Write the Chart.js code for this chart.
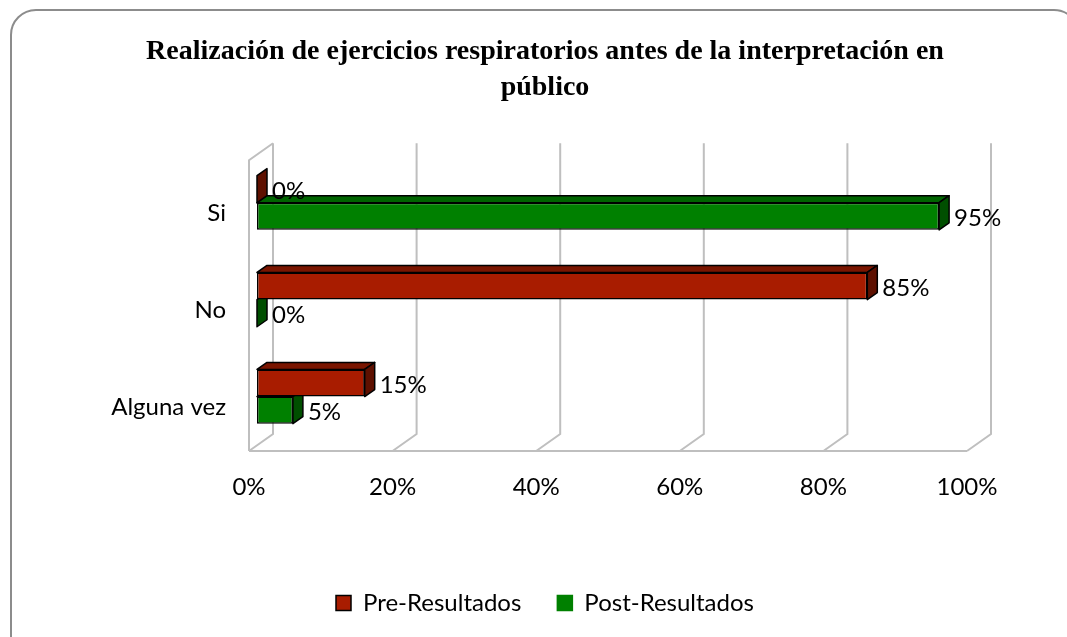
<!DOCTYPE html>
<html>
<head>
<meta charset="utf-8">
<script src="https://cdn.jsdelivr.net/npm/chart.js@4.4.1/dist/chart.umd.min.js"></script>
<style>
    html, body { margin: 0; padding: 0; background: #fff; overflow: hidden; }
    #page { position: relative; width: 1067px; height: 637px; overflow: hidden; }
    #frame { position: absolute; left: 10px; top: 9px; width: 1066px; height: 700px; border: 2px solid #8c8c8c; border-radius: 26px; }
    #wrap { position: absolute; left: 0; top: 0; width: 1090px; height: 637px; }
</style>
</head>
<body>
<div id="page">
<div id="frame"></div>
<div id="wrap"><canvas id="respChart" width="1090" height="637"></canvas></div>
</div>
<script>
const categories = ['Si', 'No', 'Alguna vez'];
const preValues = [0, 85, 15];
const postValues = [95, 0, 5];
const xTicks = [0, 20, 40, 60, 80, 100];
const chartTitle = ['Realización de ejercicios respiratorios antes de la interpretación en', 'público'];

const depth = { dx: 24, dy: -17 };   // wall depth
const barShift = { dx: 8, dy: -6 };  // bars sit a bit behind the front plane
const barDepth = { dx: 10, dy: -7 };

const faceColors = [
    { top: '#7a1500', side: '#5e1000' },
    { top: '#006400', side: '#004f00' }
];

const lato = "'Lato', 'Open Sans', sans-serif";

const wallPlugin = {
    id: 'wall3d',
    beforeDatasetsDraw(chart) {
        const ctx = chart.ctx;
        const xs = chart.scales.x;
        const area = chart.chartArea;

        ctx.save();
        ctx.strokeStyle = '#bfbfbf';
        ctx.lineWidth = 2;
        ctx.beginPath();
        xTicks.forEach(v => {
            const fx = xs.getPixelForValue(v);
            const bx = fx + depth.dx;
            ctx.moveTo(bx, area.top + depth.dy);
            ctx.lineTo(bx, area.bottom + depth.dy);
            ctx.lineTo(fx, area.bottom);
        });
        const x0 = xs.getPixelForValue(0);
        ctx.moveTo(x0, area.bottom);
        ctx.lineTo(x0, area.top);
        ctx.lineTo(x0 + depth.dx, area.top + depth.dy);
        ctx.moveTo(x0, area.bottom);
        ctx.lineTo(xs.getPixelForValue(100), area.bottom);
        ctx.stroke();
        ctx.restore();

        // shift the bars back, then draw their top and side faces
        ctx.save();
        ctx.translate(barShift.dx, barShift.dy);
        for (let d = chart.data.datasets.length - 1; d >= 0; d--) {
            const meta = chart.getDatasetMeta(d);
            meta.data.forEach(bar => {
                const left = Math.min(bar.base, bar.x);
                const right = Math.max(bar.base, bar.x);
                const top = bar.y - bar.height / 2;
                const bottom = bar.y + bar.height / 2;
                ctx.lineWidth = 1.5;
                ctx.strokeStyle = '#000';
                ctx.lineJoin = 'round';
                if (right > left) {
                    ctx.beginPath();
                    ctx.moveTo(left, top);
                    ctx.lineTo(right, top);
                    ctx.lineTo(right + barDepth.dx, top + barDepth.dy);
                    ctx.lineTo(left + barDepth.dx, top + barDepth.dy);
                    ctx.closePath();
                    ctx.fillStyle = faceColors[d].top;
                    ctx.fill();
                    ctx.stroke();
                }
                ctx.beginPath();
                ctx.moveTo(right, top);
                ctx.lineTo(right + barDepth.dx, top + barDepth.dy);
                ctx.lineTo(right + barDepth.dx, bottom + barDepth.dy);
                ctx.lineTo(right, bottom);
                ctx.closePath();
                ctx.fillStyle = faceColors[d].side;
                ctx.fill();
                ctx.stroke();
            });
        }
    },
    afterDatasetsDraw(chart) {
        const ctx = chart.ctx;
        ctx.font = '24px ' + lato;
        ctx.fillStyle = '#000';
        ctx.textAlign = 'left';
        ctx.textBaseline = 'middle';
        chart.data.datasets.forEach((ds, d) => {
            chart.getDatasetMeta(d).data.forEach((bar, i) => {
                const right = Math.max(bar.base, bar.x);
                ctx.fillText(ds.data[i] + '%', right + barDepth.dx + 5, bar.y + 2);
            });
        });
        ctx.restore();
    }
};

const ctx = document.getElementById('respChart').getContext('2d');
new Chart(ctx, {
    type: 'bar',
    data: {
        labels: categories,
        datasets: [{
            label: 'Pre-Resultados',
            data: preValues,
            backgroundColor: '#a81c00',
            borderColor: '#000',
            borderWidth: 1.5,
            borderSkipped: false
        }, {
            label: 'Post-Resultados',
            data: postValues,
            backgroundColor: '#008000',
            borderColor: '#000',
            borderWidth: 1.5,
            borderSkipped: false
        }]
    },
    options: {
        indexAxis: 'y',
        responsive: false,
        animation: false,
        categoryPercentage: 0.56,
        barPercentage: 1,
        layout: { padding: { left: 0, right: 0, top: 0, bottom: 12 } },
        plugins: {
            title: {
                display: true,
                text: chartTitle,
                color: '#000',
                font: { family: "'Liberation Serif', serif", size: 28, weight: 'bold', lineHeight: 1.29 },
                padding: { top: 34, bottom: 54 }
            },
            legend: {
                position: 'bottom',
                labels: {
                    color: '#000',
                    font: { family: lato, size: 24 },
                    boxWidth: 15,
                    boxHeight: 15,
                    padding: 36,
                    generateLabels(chart) {
                        const items = Chart.defaults.plugins.legend.labels.generateLabels(chart);
                        items[1].strokeStyle = '#008000';
                        return items;
                    }
                }
            },
            tooltip: { enabled: false }
        },
        scales: {
            x: {
                min: 0,
                max: 100,
                grid: { display: false, drawTicks: false },
                border: { display: false },
                ticks: {
                    stepSize: 20,
                    padding: 22,
                    color: '#000',
                    font: { family: lato, size: 24 },
                    callback: v => v + '%'
                },
                afterFit(scale) { scale.height = 104; }
            },
            y: {
                grid: { display: false, drawTicks: false },
                border: { display: false },
                ticks: {
                    padding: 23,
                    labelOffset: 5,
                    color: '#000',
                    font: { family: lato, size: 24 }
                },
                afterFit(scale) { scale.width = 249; }
            },
            // empty right axis, keeps the plot area narrower than the title
            yRight: {
                type: 'category',
                position: 'right',
                grid: { display: false, drawTicks: false },
                border: { display: false },
                ticks: { display: false },
                afterFit(scale) { scale.width = 123; }
            }
        }
    },
    plugins: [wallPlugin]
});
</script>
</body>
</html>
